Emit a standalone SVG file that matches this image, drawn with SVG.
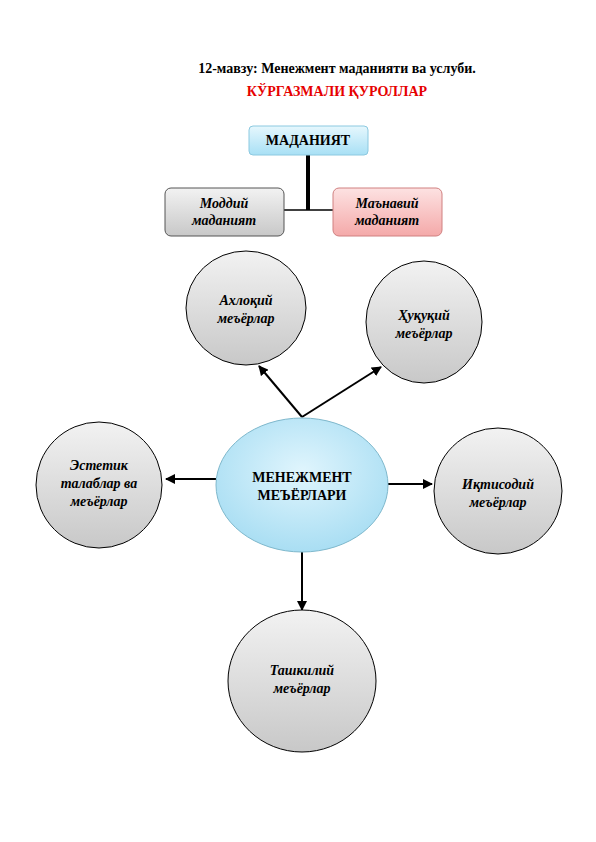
<svg xmlns="http://www.w3.org/2000/svg" width="596" height="842" viewBox="0 0 596 842">
<defs>
<linearGradient id="gGray" x1="0" y1="0" x2="0" y2="1"><stop offset="0" stop-color="#f2f2f2"/><stop offset="1" stop-color="#c8c8c8"/></linearGradient>
<linearGradient id="gBlue" x1="0" y1="0" x2="0" y2="1"><stop offset="0" stop-color="#e6f7fd"/><stop offset="1" stop-color="#a8e0f5"/></linearGradient>
<linearGradient id="gPink" x1="0" y1="0" x2="0" y2="1"><stop offset="0" stop-color="#fde2e2"/><stop offset="1" stop-color="#f4a9a9"/></linearGradient>
<radialGradient id="gCenter" cx="0.5" cy="0.4" r="0.6"><stop offset="0" stop-color="#e0f5fd"/><stop offset="1" stop-color="#a9def3"/></radialGradient>
<marker id="arr" viewBox="0 0 10 10" refX="9" refY="5" markerWidth="5" markerHeight="5" orient="auto"><path d="M0,0 L10,5 L0,10 z" fill="#000"/></marker>
</defs>
<style>
.t{font-family:"Liberation Serif",serif;font-weight:bold;font-size:14px;text-anchor:middle;fill:#000}
.it{font-family:"Liberation Serif",serif;font-weight:bold;font-style:italic;font-size:14px;text-anchor:middle;fill:#000}
.circ{fill:url(#gGray);stroke:#000;stroke-width:1}
.conn{stroke:#000;stroke-width:2;fill:none}
</style>
<rect width="596" height="842" fill="#fff"/>
<g id="title">
<text class="t" x="337" y="73">12-мавзу: Менежмент маданияти ва услуби.</text>
<text class="t" x="337" y="96" style="fill:#e60000">КЎРГАЗМАЛИ ҚУРОЛЛАР</text>
</g>
<g id="connectors">
<line x1="308" y1="155" x2="308" y2="210" stroke="#000" stroke-width="4"/>
<line x1="284" y1="210" x2="334" y2="210" stroke="#000" stroke-width="1.5"/>
<line class="conn" x1="302" y1="417" x2="259" y2="366" marker-end="url(#arr)"/>
<line class="conn" x1="302" y1="417" x2="381" y2="367" marker-end="url(#arr)"/>
<line class="conn" x1="216" y1="479" x2="166" y2="479" marker-end="url(#arr)"/>
<line class="conn" x1="388" y1="484" x2="432" y2="484" marker-end="url(#arr)"/>
<line class="conn" x1="302" y1="552" x2="302" y2="610" marker-end="url(#arr)"/>
</g>
<g id="madaniyat">
<rect x="249" y="126" width="119" height="29" rx="4" fill="url(#gBlue)" stroke="#8cc9e0" stroke-width="1"/>
<text class="t" x="308" y="145">МАДАНИЯТ</text>
</g>
<g id="moddiy">
<rect x="165" y="188" width="119" height="48" rx="6" fill="url(#gGray)" stroke="#555" stroke-width="1"/>
<text class="it" x="224" y="208">Моддий</text>
<text class="it" x="224" y="225">маданият</text>
</g>
<g id="manaviy">
<rect x="333" y="188" width="109" height="48" rx="6" fill="url(#gPink)" stroke="#d08080" stroke-width="1"/>
<text class="it" x="387" y="208">Маънавий</text>
<text class="it" x="387" y="225">маданият</text>
</g>
<g id="axloqiy">
<ellipse class="circ" cx="246" cy="308" rx="60" ry="57"/>
<text class="it" x="246" y="305">Ахлоқий</text>
<text class="it" x="246" y="323">меъёрлар</text>
</g>
<g id="huquqiy">
<ellipse class="circ" cx="424" cy="322" rx="58" ry="61"/>
<text class="it" x="424" y="320">Ҳуқуқий</text>
<text class="it" x="424" y="338">меъёрлар</text>
</g>
<g id="estetik">
<ellipse class="circ" cx="99" cy="485" rx="63" ry="63"/>
<text class="it" x="99" y="470">Эстетик</text>
<text class="it" x="99" y="488">талаблар ва</text>
<text class="it" x="99" y="506">меъёрлар</text>
</g>
<g id="menejment">
<ellipse cx="302" cy="485" rx="86" ry="67" fill="url(#gCenter)" stroke="#7fb8cc" stroke-width="1"/>
<text class="t" x="302" y="482">МЕНЕЖМЕНТ</text>
<text class="t" x="302" y="500">МЕЪЁРЛАРИ</text>
</g>
<g id="iqtisodiy">
<ellipse class="circ" cx="498" cy="491" rx="64" ry="63"/>
<text class="it" x="498" y="489">Иқтисодий</text>
<text class="it" x="498" y="507">меъёрлар</text>
</g>
<g id="tashkiliy">
<ellipse class="circ" cx="302" cy="681" rx="74" ry="71"/>
<text class="it" x="302" y="675">Ташкилий</text>
<text class="it" x="302" y="693">меъёрлар</text>
</g>
</svg>
